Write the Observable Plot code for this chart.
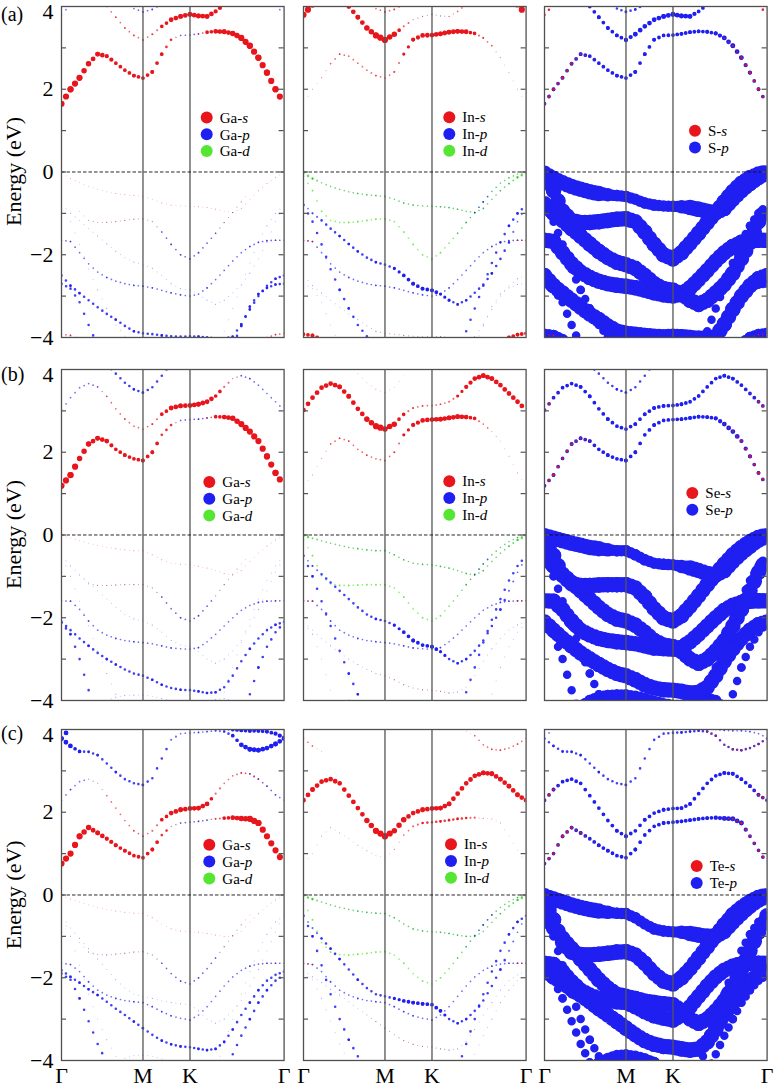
<!DOCTYPE html>
<html><head><meta charset="utf-8">
<script src="https://cdn.jsdelivr.net/npm/d3@7"></script>
<script src="https://cdn.jsdelivr.net/npm/@observablehq/plot@0.6"></script>
<style>
body{margin:0;background:#fff;}
#fig{position:relative;width:774px;height:1087px;overflow:hidden;background:#fff;}
.pl{position:absolute;}
#ov{position:absolute;left:0;top:0;pointer-events:none;}
</style></head>
<body><div id="fig"></div>
<script>
// ---------- DATA ----------
// k-path nodes (Γ=0, M=1, K=1.577, Γ=2.732)
const kPath = [0,0.111,0.222,0.333,0.444,0.556,0.667,0.778,0.889,1,1.115,1.231,1.346,1.462,1.577,1.682,1.787,1.892,1.997,2.102,2.207,2.312,2.417,2.522,2.627,2.732];
const kTicks = [0, 1, 1.577, 2.732];
const kLabels = ["Γ", "M", "K", "Γ"];
const energyTicks = [-4, -2, 0, 2];
const energyTop = [4];
const minorTicks = [-3, -2, -1, 0, 1, 2, 3];
const rowLabels = ["(a)", "(b)", "(c)"];
const cations = ["Ga", "In"];
const anions = ["S", "Se", "Te"];

// band energies (eV) read at kPath nodes
const bandsS = [
 {name:"CB1",E:[1.65,2.0,2.28,2.62,2.85,2.8,2.63,2.46,2.33,2.27, 2.42,2.85,3.2,3.3,3.31, 3.34,3.38,3.4,3.39,3.35,3.24,3.05,2.76,2.4,2.0,1.65]},
 {name:"CB2",E:[4.9,4.8,4.6,4.4,4.2,4.0,3.74,3.48,3.3,3.19, 3.33,3.52,3.68,3.76,3.81, 3.77,3.76,3.88,4.05,4.2,4.4,4.6,4.8,4.9,5,5]},
 {name:"CB3",E:[3.8,4.05,4.4,4.8,5,5,5,5,5,5, 5,5,5,5,5, 5,5,5,5,5,5,5,4.8,4.4,4.05,3.8]},
 {name:"CB4",E:[5,5,5,5,5,4.6,4.3,4.1,3.95,3.87, 3.93,4.05,4.3,4.6,5, 5,5,5,5,5,5,5,5,5,5,5]},
 {name:"A",E:[-0.03,-0.16,-0.26,-0.35,-0.42,-0.48,-0.52,-0.55,-0.57,-0.59, -0.66,-0.75,-0.8,-0.82,-0.83, -0.84,-0.86,-0.9,-0.95,-0.98,-0.88,-0.66,-0.45,-0.28,-0.13,-0.02]},
 {name:"B",E:[-0.1,-0.45,-0.95,-1.17,-1.22,-1.22,-1.2,-1.17,-1.14,-1.13, -1.2,-1.45,-1.75,-2.0,-2.1, -1.95,-1.72,-1.48,-1.22,-0.98,-0.72,-0.47,-0.27,-0.14,-0.05,0]},
 {name:"C",E:[-0.77,-1.0,-1.17,-1.37,-1.55,-1.74,-1.92,-2.07,-2.18,-2.24, -2.33,-2.5,-2.7,-2.82,-2.86, -2.95,-3.1,-3.2,-3.1,-2.92,-2.72,-2.45,-2.1,-1.7,-1.2,-0.85]},
 {name:"D",E:[-1.65,-1.68,-1.95,-2.22,-2.42,-2.55,-2.64,-2.7,-2.74,-2.76, -2.8,-2.86,-2.92,-2.97,-3.0, -2.95,-2.8,-2.6,-2.38,-2.15,-1.95,-1.8,-1.7,-1.66,-1.65,-1.65]},
 {name:"E",E:[-2.5,-2.75,-2.93,-3.1,-3.27,-3.43,-3.57,-3.72,-3.85,-3.9, -3.92,-3.95,-3.97,-3.98,-3.97, -3.98,-4.0,-4.02,-4.02,-3.98,-3.68,-3.32,-3.0,-2.75,-2.58,-2.5]},
 {name:"F",E:[-2.7,-2.82,-3.15,-3.7,-4.2,-4.6,-5,-5,-5,-5, -5,-5,-5,-5,-5, -5,-5,-5,-4.6,-4.2,-3.72,-3.25,-2.95,-2.8,-2.72,-2.7]},
 {name:"G",E:[-0.8,-1.2,-1.75,-2.35,-2.85,-3.3,-3.7,-3.97,-4.3,-4.6, -5,-5,-5,-5,-5, -5,-5,-4.3,-3.85,-3.3,-2.75,-2.2,-1.7,-1.3,-1.0,-0.8]},
 {name:"H",E:[-3.92,-3.95,-4.05,-4.2,-4.4,-4.6,-5,-5,-5,-5, -5,-5,-5,-5,-5, -5,-5,-5,-5,-5,-4.6,-4.4,-4.15,-4.0,-3.93,-3.9]}
];
const bandsSe = [
 {name:"CB1",E:[1.19,1.45,1.85,2.2,2.34,2.27,2.07,1.93,1.84,1.8, 2.0,2.42,2.66,2.77,2.79, 2.8,2.83,2.86,2.85,2.82,2.68,2.5,2.27,1.9,1.5,1.19]},
 {name:"CB2",E:[3.02,3.32,3.56,3.66,3.58,3.35,3.05,2.8,2.63,2.56, 2.68,2.92,3.07,3.12,3.13, 3.16,3.22,3.36,3.58,3.78,3.85,3.78,3.62,3.42,3.22,3.02]},
 {name:"CB3",E:[5,5,5,5,5,4.1,3.9,3.68,3.52,3.44, 3.57,3.85,4.15,4.5,5, 5,5,5,5,5,5,5,5,5,5,5]},
 {name:"A",E:[-0.02,-0.08,-0.14,-0.2,-0.25,-0.3,-0.33,-0.36,-0.38,-0.38, -0.48,-0.6,-0.68,-0.71,-0.72, -0.76,-0.8,-0.86,-0.93,-0.97,-0.86,-0.64,-0.44,-0.27,-0.12,-0.02]},
 {name:"B",E:[-0.12,-0.5,-0.98,-1.18,-1.22,-1.22,-1.21,-1.2,-1.2,-1.2, -1.28,-1.5,-1.78,-2.0,-2.08, -1.95,-1.72,-1.47,-1.2,-0.95,-0.7,-0.48,-0.3,-0.16,-0.06,0]},
 {name:"C",E:[-0.5,-0.75,-0.95,-1.15,-1.35,-1.55,-1.75,-1.92,-2.03,-2.08, -2.18,-2.35,-2.55,-2.66,-2.7, -2.82,-3.0,-3.1,-3.0,-2.8,-2.55,-2.2,-1.8,-1.35,-0.9,-0.55]},
 {name:"D",E:[-1.59,-1.6,-1.8,-2.08,-2.3,-2.42,-2.5,-2.55,-2.58,-2.6, -2.63,-2.68,-2.73,-2.75,-2.76, -2.72,-2.58,-2.4,-2.2,-2.0,-1.82,-1.7,-1.63,-1.6,-1.59,-1.59]},
 {name:"E",E:[-2.1,-2.3,-2.5,-2.68,-2.85,-3.0,-3.13,-3.25,-3.35,-3.4, -3.5,-3.62,-3.7,-3.74,-3.75, -3.78,-3.82,-3.8,-3.68,-3.4,-3.05,-2.75,-2.5,-2.3,-2.17,-2.1]},
 {name:"F",E:[-2.12,-2.4,-3.0,-3.75,-4.4,-5,-5,-5,-5,-5, -5,-5,-5,-5,-5, -5,-5,-5,-5,-5,-4.4,-3.85,-3.2,-2.7,-2.35,-2.12]},
 {name:"G",E:[-0.5,-1.0,-1.6,-2.2,-2.8,-3.35,-3.85,-4.3,-4.7,-5, -5,-5,-5,-5,-5, -5,-5,-4.3,-3.8,-3.2,-2.6,-2.05,-1.55,-1.1,-0.75,-0.5]},
 {name:"H",E:[-5,-5,-4.6,-4.35,-4.15,-4.0,-3.92,-3.88,-3.87,-3.87, -3.9,-3.95,-4.02,-4.08,-4.12, -4.12,-4.05,-3.98,-3.95,-4.0,-4.2,-4.5,-5,-5,-5,-5]}
];
const bandsTe = [
 {name:"CB1",E:[0.76,1.0,1.42,1.63,1.5,1.36,1.2,1.07,0.95,0.9, 1.1,1.45,1.66,1.74,1.76, 1.78,1.81,1.84,1.86,1.87,1.85,1.84,1.74,1.42,1.08,0.76]},
 {name:"CB2",E:[2.29,2.55,2.74,2.8,2.7,2.4,2.1,1.8,1.55,1.42, 1.55,1.82,1.98,2.06,2.09, 2.1,2.2,2.45,2.7,2.88,2.95,2.93,2.8,2.63,2.42,2.29]},
 {name:"CB3",E:[3.78,3.6,3.47,3.46,3.38,3.18,2.97,2.8,2.7,2.66, 2.82,3.3,3.75,3.9,3.92, 3.93,3.95,3.97,3.95,3.85,3.63,3.52,3.5,3.55,3.65,3.78]},
 {name:"CB4",E:[3.78,4.05,4.4,4.8,5,5,5,5,5,5, 5,5,5,5,5, 5,5,5,4.05,4.0,3.98,3.97,3.97,3.95,3.9,3.8]},
 {name:"A",E:[-0.02,-0.1,-0.17,-0.24,-0.3,-0.35,-0.39,-0.42,-0.44,-0.45, -0.55,-0.7,-0.82,-0.87,-0.89, -0.9,-0.93,-0.97,-1.0,-1.0,-0.88,-0.66,-0.45,-0.27,-0.12,-0.02]},
 {name:"B",E:[-0.15,-0.6,-1.15,-1.38,-1.44,-1.45,-1.43,-1.41,-1.38,-1.37, -1.45,-1.65,-1.9,-2.08,-2.15, -2.0,-1.78,-1.52,-1.25,-0.98,-0.72,-0.48,-0.3,-0.16,-0.06,0]},
 {name:"C",E:[-0.5,-0.8,-1.05,-1.3,-1.55,-1.8,-2.05,-2.25,-2.4,-2.45, -2.5,-2.56,-2.6,-2.63,-2.65, -2.8,-3.0,-3.1,-3.0,-2.8,-2.55,-2.2,-1.8,-1.35,-0.9,-0.5]},
 {name:"D",E:[-1.65,-1.68,-1.85,-2.1,-2.3,-2.42,-2.5,-2.55,-2.58,-2.6, -2.7,-2.82,-2.92,-2.98,-3.02, -2.9,-2.7,-2.45,-2.2,-1.98,-1.82,-1.72,-1.67,-1.65,-1.65,-1.65]},
 {name:"E",E:[-1.82,-1.98,-2.12,-2.28,-2.42,-2.58,-2.75,-2.9,-3.06,-3.22, -3.38,-3.52,-3.61,-3.66,-3.68, -3.72,-3.75,-3.72,-3.55,-3.25,-2.9,-2.6,-2.3,-2.07,-1.93,-1.85]},
 {name:"F",E:[-1.9,-2.05,-2.5,-3.05,-3.6,-4.05,-4.5,-5,-5,-5, -5,-5,-5,-5,-5, -5,-5,-5,-4.3,-3.85,-3.4,-3.0,-2.6,-2.3,-2.07,-1.93]},
 {name:"G",E:[-0.5,-1.0,-1.7,-2.4,-3.0,-3.5,-3.9,-4.3,-4.7,-5, -5,-5,-5,-5,-5, -5,-5,-4.2,-3.6,-3.0,-2.4,-1.85,-1.35,-0.95,-0.65,-0.5]},
 {name:"H",E:[-5,-5,-5,-5,-4.5,-4.2,-4.05,-3.95,-3.88,-3.87, -3.9,-3.96,-4.05,-4.2,-4.4, -5,-5,-5,-5,-5,-5,-5,-5,-5,-5,-5]}
];

// orbital weights (0-9) per node; keys: c=Ga, i=In, a=anion; s/p/d
const valenceWeights = [
 ["A","cs","1111111111 11111 11111111111"],["A","ip","1111111111 11111 11111111111"],
 ["A","id","3322222222 22222 22222222233"],["A","ap","9999999888 88888 89999999999"],
 ["B","cs","0001111111 11111 11111100000"],["B","cp","0001111111 12222 22211100000"],
 ["B","ip","0000000000 00000 00112221110"],["B","id","2222222222 22222 22222222222"],
 ["B","ap","9999999999 99999 99999999999"],
 ["C","cp","1111111111 11111 11111111111"],["C","ip","2233333333 34444 43333333322"],
 ["C","id","1100000000 00000 00000000011"],["C","ap","9999999999 99999 99999999999"],
 ["D","cs","1110000000 00000 00000000111"],["D","cp","2222222222 22222 22222222222"],
 ["D","is","2200000000 00000 00000000022"],["D","ip","2222222222 22222 22222222222"],
 ["D","ap","9999999999 99999 99999999999"],
 ["E","cp","3333333333 33333 33333333333"],["E","is","0000000011 11111 11000000000"],
 ["E","ip","1111111111 11111 11111111111"],["E","ap","9999999999 99999 99999999999"],
 ["F","cp","3333333333 33333 33333333333"],["F","ip","1111111111 11111 11111111111"],
 ["F","ap","7777777777 77777 77777777777"],
 ["G","cp","1111111111 11111 11111111111"],["G","ip","3333333333 33333 33333333333"],
 ["G","ap","7777777777 77777 77777777777"],
 ["H","cs","2222200000 00000 00000002222"],["H","cp","1111111111 11111 11111111111"],
 ["H","is","4444400000 00000 00000004444"],["H","as","2222200000 00000 00000002222"],
 ["H","ap","8888888888 88888 88888888888"]
];
const cbWeightsS = [
 ["CB1","cs","6665554444 44211 13555666666"],["CB1","cp","0000000000 00122 21000000000"],
 ["CB1","is","1112222222 23455 55553221111"],["CB1","as","3333221000 00000 00000223333"],
 ["CB1","ap","4444444444 44444 44444555444"],
 ["CB2","cs","2222222222 23555 55544444444"],["CB2","is","5555555566 53211 11222222222"],
 ["CB2","ip","0000000000 00111 11000000000"],["CB2","ap","4444444444 55555 55444444444"],
 ["CB3","cp","2200000000 00000 00000000022"],["CB3","is","6600000000 00000 00000000066"],
 ["CB3","as","3300000000 00000 00000000033"],["CB3","ap","2200000000 00000 00000000022"],
 ["CB4","cp","0000000222 22000 00000000000"],["CB4","is","0000000222 22000 00000000000"],
 ["CB4","ap","0000000333 33000 00000000000"]
];
const cbWeightsSe = [
 ["CB1","cs","6665554444 44211 11355666666"],["CB1","cp","0000000000 00122 22100000000"],
 ["CB1","is","1112222222 23455 55553221111"],["CB1","as","3333221000 00000 00000223333"],
 ["CB1","ap","4444444444 44444 44444555444"],
 ["CB2","cs","0000122222 23555 55532100000"],["CB2","cp","2222210000 00000 00001222222"],
 ["CB2","is","5555555566 53222 22345555555"],["CB2","as","3300000000 00000 00000000033"],
 ["CB2","ap","4444444444 44444 44444444444"],
 ["CB3","cp","0000023333 33300 00000000000"],["CB3","is","0000011111 11000 00000000000"],
 ["CB3","ap","0000033333 33300 00000000000"]
];
const cbWeightsTe = [
 ["CB1","cs","6665554444 44211 11235566666"],["CB1","cp","0000000000 00122 22100000000"],
 ["CB1","is","1111111111 12233 33332111111"],["CB1","as","3333221000 00000 00000223333"],
 ["CB1","ap","4444444444 44444 44444555444"],
 ["CB2","cs","0000122222 23555 55322222000"],["CB2","cp","2222100000 00000 00000122222"],
 ["CB2","is","5555555566 65555 55555555555"],["CB2","as","3300000000 00000 00000000033"],
 ["CB2","ap","4444444444 44444 44444444444"],
 ["CB3","cp","5533333333 33322 22233555555"],["CB3","is","2200000000 00000 00002222222"],
 ["CB3","as","0000000000 00000 00122222222"],["CB3","ap","3333333333 33333 33333333333"],
 ["CB4","cp","5500000000 00000 00044444445"],["CB4","ap","2200000000 00000 00022222222"]
];

// ---------- STYLE / LAYOUT ----------
const SIZE = [0, 0.8, 1.7, 2.6, 3.8, 4.8, 6.2, 8.5, 11.5, 15.5];
const orbColor = {s: "#e8161c", p: "#1f1ff2", d: "#55e633"};
const panelKeys = [["cd","cp","cs"], ["id","ip","is"], ["ap","as"]];
const rowBands = [bandsS, bandsSe, bandsTe];
const rowCB = [cbWeightsS, cbWeightsSe, cbWeightsTe];
const W = 222.6, H = 331;
const colX = [61, 303, 544.4];
const rowY = [6, 369, 729.3];
const FONT = "Liberation Serif, Times New Roman, serif";

function weightMap(r) {
  const m = new Map();
  for (const [b, k, s] of [...valenceWeights, ...rowCB[r]]) {
    m.set(b + "|" + k, s.replace(/\s/g, "").split("").map(Number));
  }
  return m;
}
function opacityFor(sw) { return sw < 1.3 ? 0.4 : sw < 2.2 ? 0.65 : sw < 3 ? 0.85 : 1; }

const fig = document.getElementById("fig");

function drawPanel(r, c) {
  const mL = c === 0 ? 61 : 4, mR = 4, mT = 4, mB = r === 2 ? 27 : 4;
  const wm = weightMap(r);
  const pxK = W / 2.732, pxE = H / 8;
  const marks = [];
  for (const key of panelKeys[c]) {
    const color = orbColor[key[1]];
    const groups = new Map();
    let sid = 0;
    for (const band of rowBands[r]) {
      const w = wm.get(band.name + "|" + key);
      if (!w) continue;
      for (let i = 0; i < kPath.length - 1; i++) {
        const e0 = band.E[i], e1 = band.E[i + 1];
        if ((e0 > 4.15 && e1 > 4.15) || (e0 < -4.15 && e1 < -4.15)) continue;
        const sw = (SIZE[w[i]] + SIZE[w[i + 1]]) / 2;
        if (sw <= 0) continue;
        const dx = (kPath[i + 1] - kPath[i]) * pxK, dy = (e1 - e0) * pxE;
        const n = Math.max(1, Math.round(dx / 4.5));
        const gap = Math.max(1, Math.round(Math.hypot(dx, dy) / n * 4) / 4);
        if (!groups.has(gap)) groups.set(gap, []);
        const op = opacityFor(sw);
        groups.get(gap).push({k: kPath[i], E: e0, sw, op, id: sid}, {k: kPath[i + 1], E: e1, sw, op, id: sid});
        sid++;
      }
    }
    for (const [gap, data] of groups) {
      marks.push(Plot.line(data, {x: "k", y: "E", z: "id", stroke: color, strokeWidth: "sw", strokeOpacity: "op",
        strokeLinecap: "round", strokeDasharray: `0 ${gap}`, clip: true}));
    }
  }
  marks.push(Plot.ruleX(kTicks.slice(1, 3), {stroke: "#555", strokeWidth: 1.3}));
  marks.push(Plot.ruleY([0], {stroke: "#111", strokeWidth: 0.9, strokeDasharray: "3.5 2"}));
  marks.push(Plot.ruleY(minorTicks, {insetRight: W - 5, stroke: "#555", strokeWidth: 1.2}));
  marks.push(Plot.ruleY(minorTicks, {insetLeft: W - 5, stroke: "#555", strokeWidth: 1.2}));
  marks.push(Plot.frame({stroke: "#505050", strokeWidth: 1.3}));
  if (c === 0) {
    marks.push(Plot.axisY(energyTicks, {tickSize: 0, tickPadding: 8, fontSize: 22, label: null, fontFamily: FONT}));
    marks.push(Plot.axisY(energyTop, {tickSize: 0, tickPadding: 8, dy: 5, fontSize: 22, label: null, fontFamily: FONT}));
  }
  if (r === 2) {
    marks.push(Plot.axisX(kTicks, {tickSize: 0, tickPadding: 7, fontSize: 22, label: null, fontFamily: FONT,
      tickFormat: d => kLabels[kTicks.indexOf(d)]}));
  }
  const plot = Plot.plot({
    width: mL + W + mR, height: mT + H + mB,
    marginLeft: mL, marginRight: mR, marginTop: mT, marginBottom: mB,
    x: {domain: [0, 2.732], ...(r === 2 ? {} : {axis: null})},
    y: {domain: [-4, 4], ...(c === 0 ? {} : {axis: null})},
    style: {fontFamily: FONT, fontSize: "22px", overflow: "visible", background: "transparent", color: "#000"},
    marks
  });
  const div = document.createElement("div");
  div.className = "pl";
  div.style.left = (colX[c] - mL) + "px";
  div.style.top = (rowY[r] - mT) + "px";
  div.style.width = (mL + W + mR) + "px";
  div.appendChild(plot);
  fig.appendChild(div);
}

for (let r = 0; r < 3; r++) for (let c = 0; c < 3; c++) drawPanel(r, c);

// ---------- overlay: row labels, y label, legends ----------
// legend block centres (x of marker, y of block centre)
const legendCentre = [
  [[206.7, 134.3], [449.3, 134], [695, 139.2]],
  [[209.3, 498.7], [449.3, 498], [692.3, 501.3]],
  [[209.3, 861.6], [451, 861], [696.7, 874.5]]
];
const LEG_FONT = 15, LEG_STEP = 16.8;
const rowLabelBase = [20.5, 381, 740];
const NS = "http://www.w3.org/2000/svg";
const ov = document.createElementNS(NS, "svg");
ov.setAttribute("id", "ov"); ov.setAttribute("width", 774); ov.setAttribute("height", 1087);
ov.setAttribute("font-family", FONT);
fig.appendChild(ov);
function el(tag, attrs, parent) {
  const e = document.createElementNS(NS, tag);
  for (const k in attrs) e.setAttribute(k, attrs[k]);
  (parent || ov).appendChild(e); return e;
}
for (let r = 0; r < 3; r++) {
  el("text", {x: 1, y: rowLabelBase[r], "font-size": 20}).textContent = rowLabels[r];
  const cy = rowY[r] + H / 2;
  el("text", {transform: `translate(20.5,${cy}) rotate(-90)`, "text-anchor": "middle", "font-size": 22}).textContent = "Energy (eV)";
  for (let c = 0; c < 3; c++) {
    const atom = c < 2 ? cations[c] : anions[r];
    const orbs = c < 2 ? ["s", "p", "d"] : ["s", "p"];
    const [lx, lc] = legendCentre[r][c];
    const y0 = lc - (orbs.length - 1) * LEG_STEP / 2;
    orbs.forEach((o, j) => {
      const y = y0 + j * LEG_STEP;
      el("circle", {cx: lx, cy: y, r: 6, fill: orbColor[o]});
      const t = el("text", {x: lx + 13, y: y + 5.2, "font-size": LEG_FONT});
      el("tspan", {}, t).textContent = atom + "-";
      el("tspan", {"font-style": "italic"}, t).textContent = o;
    });
  }
}
</script>
</body></html>
